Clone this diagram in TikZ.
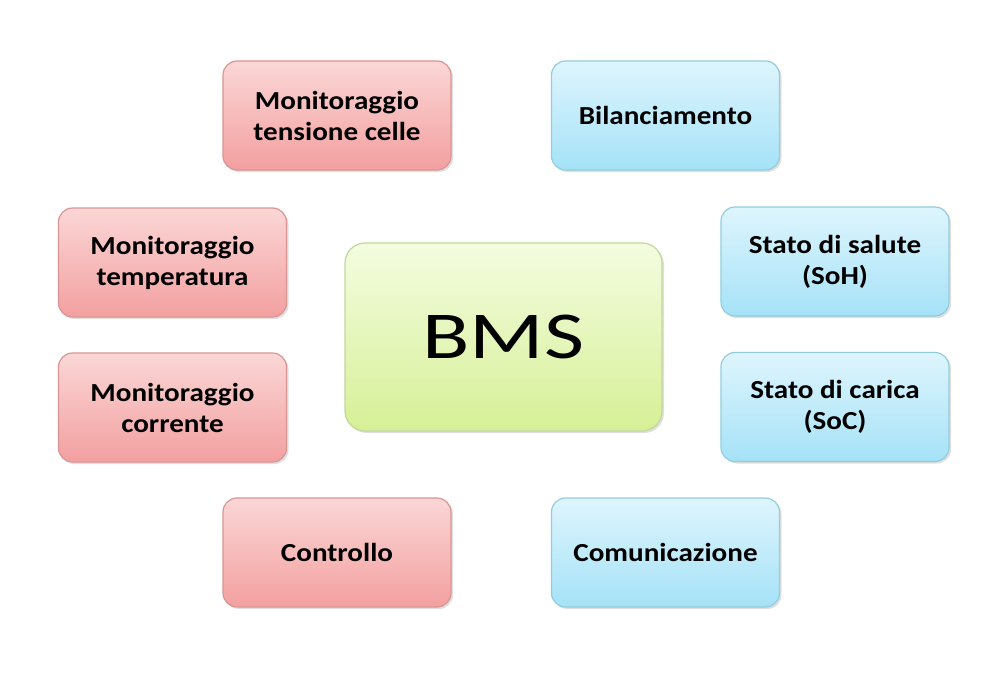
\documentclass[tikz,border=0pt]{standalone}
\usepackage{fontspec}
\setmainfont{Carlito}
\newfontfamily\boxfont[FakeStretch=1.12]{Carlito}
\newfontfamily\bmsfont[FakeStretch=1.3]{Carlito}
\usetikzlibrary{shadows}
\definecolor{redtop}{RGB}{251,214,214}
\definecolor{redbot}{RGB}{243,160,160}
\definecolor{redline}{RGB}{217,149,148}
\definecolor{bluetop}{RGB}{222,245,253}
\definecolor{bluebot}{RGB}{165,226,247}
\definecolor{blueline}{RGB}{147,205,221}
\definecolor{greentop}{RGB}{244,252,224}
\definecolor{greenbot}{RGB}{214,240,150}
\definecolor{greenline}{RGB}{195,214,155}
\tikzset{
  box/.style={rounded corners=14pt, minimum width=228pt, minimum height=109pt,
    line width=1.2pt, align=center, font=\boxfont\bfseries\fontsize{26}{31}\selectfont,
    drop shadow={shadow xshift=2pt, shadow yshift=-2pt, opacity=0.25}},
  redbox/.style={box, draw=redline, top color=redtop, bottom color=redbot},
  bluebox/.style={box, draw=blueline, top color=bluetop, bottom color=bluebot},
  bmsbox/.style={rounded corners=20pt, minimum width=317pt, minimum height=188pt,
    line width=1.2pt, draw=greenline, top color=greentop, bottom color=greenbot,
    font=\bmsfont\fontsize{67}{75}\selectfont,
    drop shadow={shadow xshift=2pt, shadow yshift=-2pt, opacity=0.25}}
}
\begin{document}
\begin{tikzpicture}[x=1pt,y=-1pt]
\useasboundingbox (0,0) rectangle (995,678);
\fill[white] (0,0) rectangle (995,678);
\node[bmsbox] (bms) at (503.5,337) {BMS};
\node[redbox] (mtc) at (337,115.5) {Monitoraggio\\tensione celle};
\node[redbox] (mt) at (172.5,262.5) {Monitoraggio\\temperatura};
\node[redbox] (mc) at (172.5,407.5) {Monitoraggio\\corrente};
\node[redbox] (ctl) at (337,552.5) {Controllo};
\node[bluebox] (bil) at (665.5,115.5) {Bilanciamento};
\node[bluebox] (soh) at (835,261.5) {Stato di salute\\(SoH)};
\node[bluebox] (soc) at (835,407) {Stato di carica\\(SoC)};
\node[bluebox] (com) at (665.5,552.5) {Comunicazione};
\end{tikzpicture}
\end{document}
